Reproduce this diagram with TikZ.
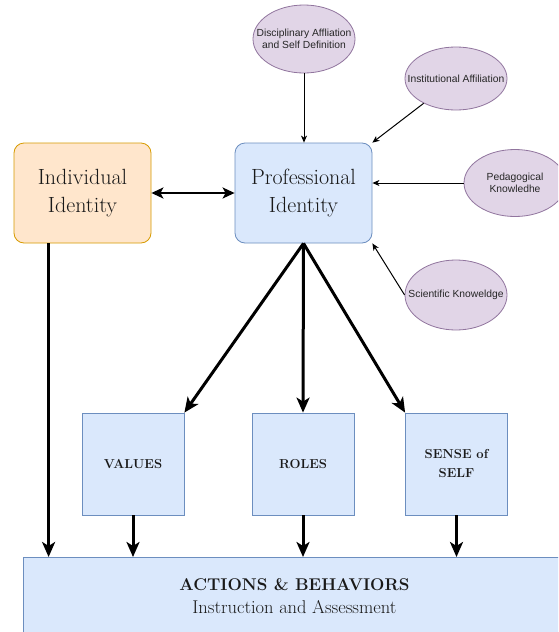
\documentclass[tikz,border=0pt]{standalone}
\usepackage{fontspec}
\newfontfamily\bubblefont{Liberation Sans}
\usepackage{tikz}
\usetikzlibrary{shapes.geometric,positioning,arrows.meta}

\definecolor{idfill}{HTML}{FFE6CC}
\definecolor{iddraw}{HTML}{D79B00}
\definecolor{boxfill}{HTML}{DAE8FC}
\definecolor{boxdraw}{HTML}{6C8EBF}
\definecolor{bubfill}{HTML}{E1D5E7}
\definecolor{bubdraw}{HTML}{9673A6}

\begin{document}
\begin{tikzpicture}[x=1pt,y=-1pt,
  identity/.style={draw=boxdraw,fill=boxfill,rounded corners=10pt,line width=0.8pt,minimum width=137pt,minimum height=100pt,align=center,text=black!90,font=\fontsize{22}{28}\selectfont},
  facet/.style={draw=boxdraw,fill=boxfill,line width=0.8pt,minimum width=102pt,minimum height=102pt,align=center,text=black!90,font=\fontsize{13}{19}\selectfont\bfseries},
  bubble/.style={ellipse,draw=bubdraw!80!gray,fill=bubfill,line width=0.8pt,minimum width=102pt,inner sep=0pt},
  bubbletext/.style={align=center,text=black!85,font=\bubblefont\fontsize{10.3}{12}\selectfont},
  thin arrow/.style={draw,-{Stealth[length=7pt,width=6pt,inset=2pt]},line width=1pt},
  thick arrow/.style={draw,-{Stealth[length=15pt,width=13pt,inset=4pt]},line width=3pt}]
\path[use as bounding box,fill=white] (0,0) rectangle (558,632);
\clip (0,0) rectangle (558,632);

% identities
\node[identity,draw=iddraw,fill=idfill] (indiv) at (82.5,193) {Individual\\Identity};
\node[identity] (prof) at (303.5,193) {Professional\\Identity};

% influences on the professional identity
\node[bubble,minimum height=68pt,label={[bubbletext]center:Disciplinary Affliation\\and Self Definition}] (disc) at (304,39) {};
\node[bubble,minimum height=63pt,label={[bubbletext]center:Institutional Affiliation}] (inst) at (456,78.5) {};
\node[bubble,minimum height=67pt,label={[bubbletext]center:Pedagogical\\Knowledhe}] (ped) at (515,183) {};
\node[bubble,minimum height=70pt,label={[bubbletext]center:Scientific Knoweldge}] (sci) at (456,295) {};

\node[facet] (values) at (133,464) {VALUES};
\node[facet] (roles) at (303,464) {ROLES};
\node[facet] (sense) at (456.5,464) {SENSE of\\SELF};

\node[facet,anchor=north west,minimum width=542pt,minimum height=100pt] (actions) at (23,557) {};
\node[below=21pt of actions.north,inner sep=0pt,align=center,text=black!90,font=\fontsize{17}{23}\selectfont] (actlabel) {{\bfseries ACTIONS \& BEHAVIORS}\\{\fontsize{18.5}{23}\selectfont Instruction and Assessment}};

\draw[thin arrow] (disc) -- (disc |- prof.north);
\draw[thin arrow] (inst) -- (prof.north east);
\draw[thin arrow] (ped) -- (ped -| prof.east);
\draw[thin arrow] (sci.west) -- (prof.south east);

\draw[{Stealth[length=12pt,width=11pt,inset=3pt]}-{Stealth[length=12pt,width=11pt,inset=3pt]},line width=2pt] (indiv) -- (prof);

\draw[thick arrow] (prof.south) -- (values.north east);
\draw[thick arrow] (prof.south) -- (roles.north);
\draw[thick arrow] (prof.south) -- (sense.north west);

\coordinate (indivout) at ([xshift=35pt]indiv.south west);
\draw[thick arrow] (indivout) -- (indivout |- actions.north);
\draw[thick arrow] (values) -- (values |- actions.north);
\draw[thick arrow] (roles) -- (roles |- actions.north);
\draw[thick arrow] (sense) -- (sense |- actions.north);
\end{tikzpicture}
\end{document}
